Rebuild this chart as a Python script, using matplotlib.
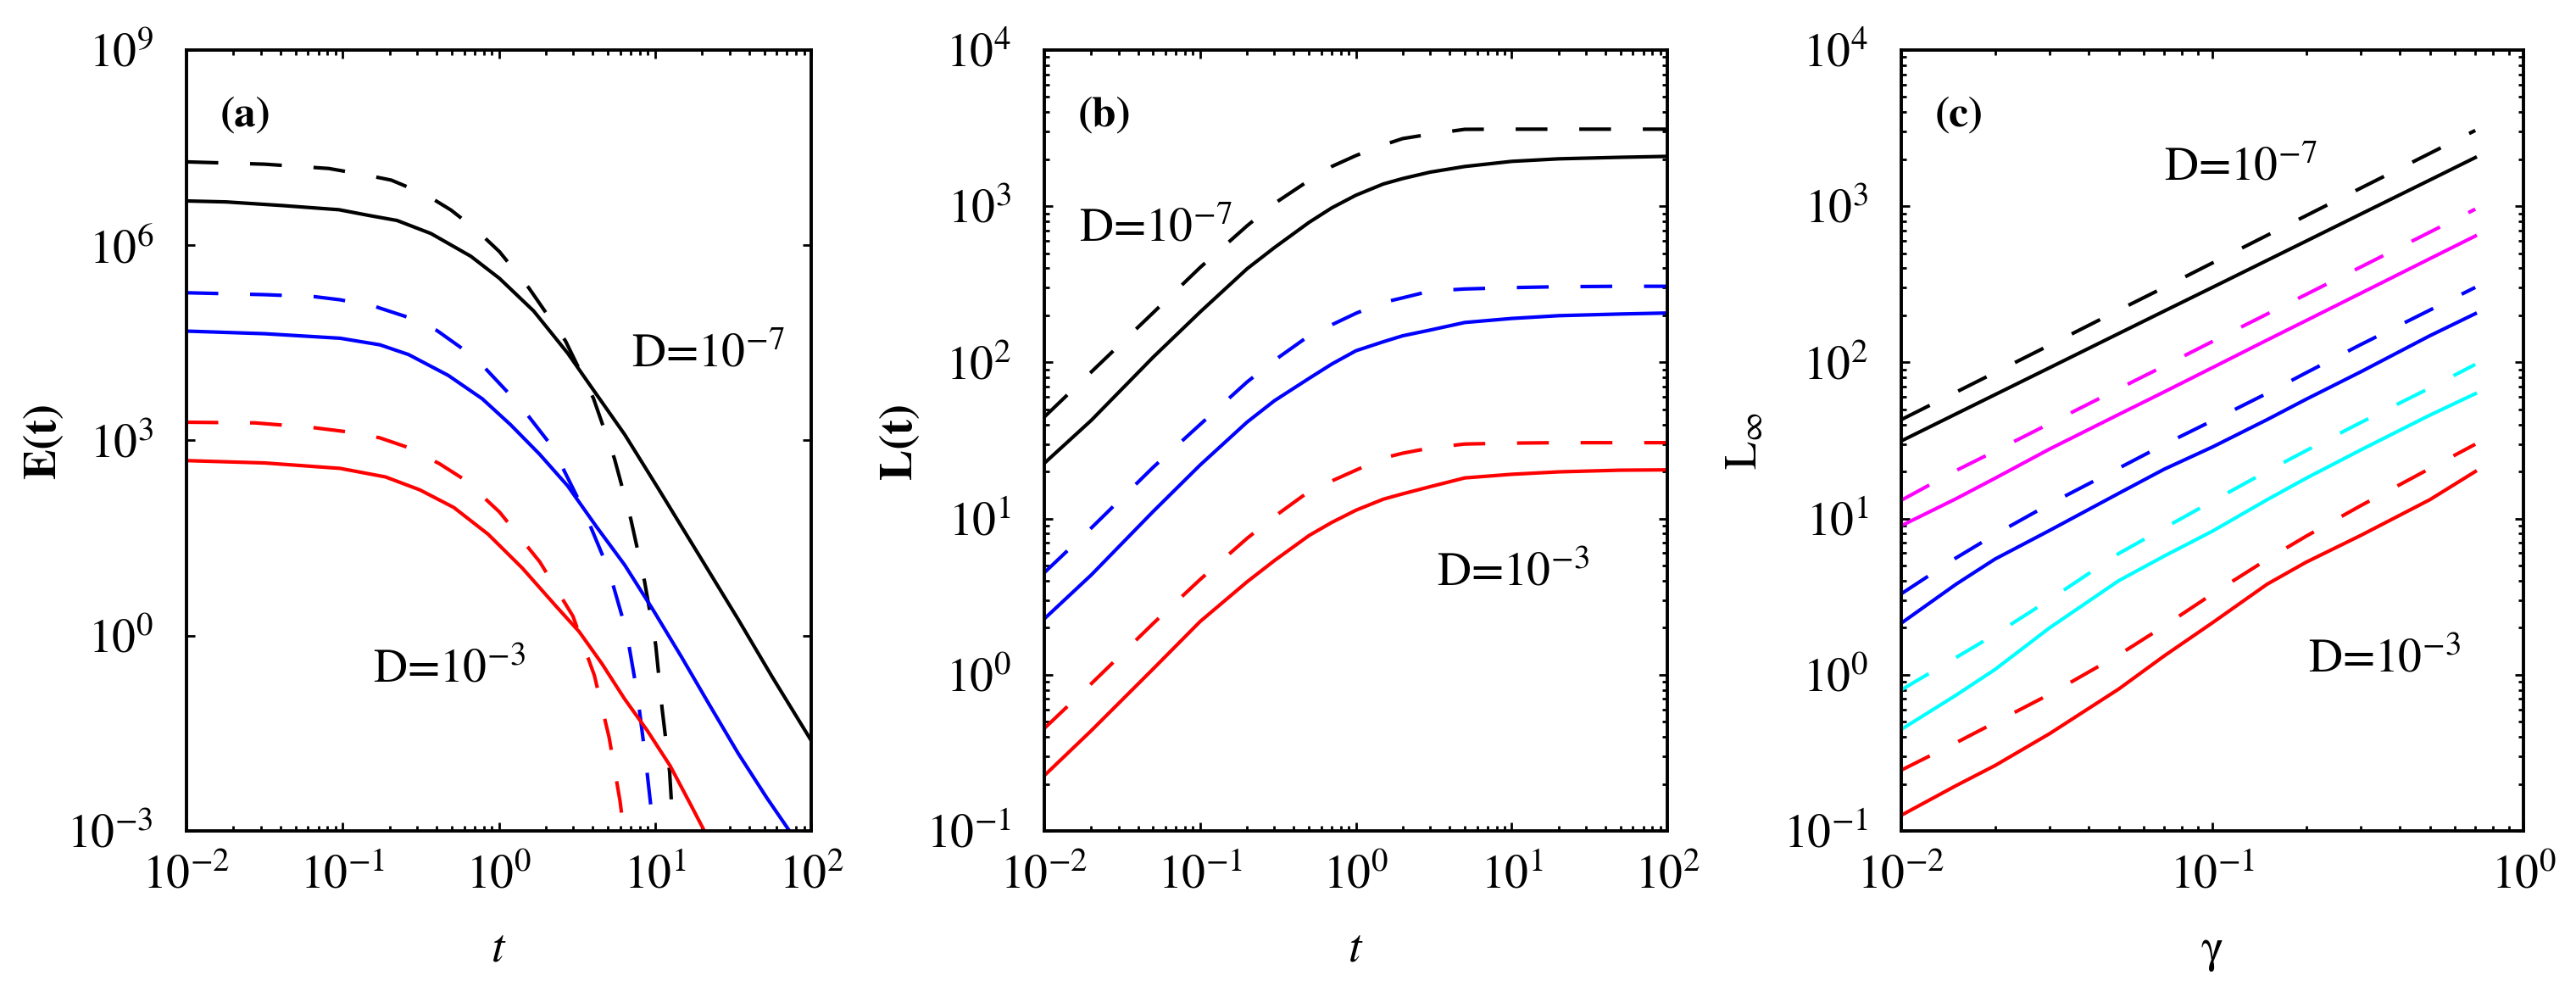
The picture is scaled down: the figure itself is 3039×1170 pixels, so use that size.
import numpy as np
import matplotlib
matplotlib.use("Agg")
import matplotlib.pyplot as plt
from matplotlib.ticker import NullLocator, LogLocator

plt.rcParams['font.family'] = 'STIXGeneral'
plt.rcParams['mathtext.fontset'] = 'stix'

# ---- panel (a): E(t) ----
t_a_black = [0.01, 0.0179, 0.0412, 0.0948, 0.147, 0.223, 0.368, 0.662, 1.01, 1.67, 2.76, 3.86, 6.40, 10.5, 19.1, 33.9, 56.2, 100]
E_a_black = [4.79e6, 4.63e6, 4.07e6, 3.51e6, 2.87e6, 2.40e6, 1.51e6, 6.76e5, 3.09e5, 9.77e4, 2.19e4, 6.92e3, 1.23e3, 182, 17.4, 1.82, 0.234, 0.0245]
t_a_black_d = [0.01, 0.0316, 0.0815, 0.141, 0.205, 0.339, 0.494, 0.721, 1.01, 1.56, 2.67, 4.03, 5.50, 7.0, 8.57, 10.1, 11.1, 12.4, 13.0, 13.2]
E_a_black_d = [1.91e7, 1.76e7, 1.51e7, 1.20e7, 1.0e7, 6.03e6, 3.47e6, 1.70e6, 7.94e5, 2.19e5, 3.39e4, 4.47e3, 525, 61.7, 6.84, 0.724, 0.0759, 8.13e-3, 1.26e-3, 1.0e-3]
t_a_blue = [0.01, 0.0316, 0.0964, 0.173, 0.264, 0.474, 0.783, 1.19, 1.82, 2.76, 4.20, 6.38, 9.70, 14.8, 22.4, 34.1, 51.9, 72.6]
E_a_blue = [4.79e4, 4.37e4, 3.72e4, 2.95e4, 2.09e4, 1.0e4, 4.37e3, 1.74e3, 617, 200, 47.9, 12.3, 2.51, 0.468, 0.0851, 0.0155, 3.24e-3, 1.0e-3]
t_a_blue_d = [0.01, 0.0316, 0.0661, 0.0964, 0.160, 0.264, 0.401, 0.585, 0.817, 1.14, 1.53, 2.06, 2.33, 3.48, 5.07, 6.58, 7.71, 8.67, 9.59, 9.77]
E_a_blue_d = [1.86e5, 1.74e5, 1.62e5, 1.45e5, 1.15e5, 7.76e4, 4.90e4, 2.57e4, 1.29e4, 5.50e3, 2.45e3, 977, 603, 87.1, 10.0, 1.135, 0.126, 0.0138, 1.58e-3, 1.0e-3]
t_a_red = [0.01, 0.0316, 0.0964, 0.188, 0.312, 0.515, 0.853, 1.41, 2.33, 3.27, 4.57, 6.38, 8.93, 12.5, 16.7, 20.7]
E_a_red = [490, 451, 372, 275, 174, 93.3, 36.3, 11.0, 2.82, 1.15, 0.372, 0.107, 0.0347, 0.01, 2.69e-3, 1.0e-3]
t_a_red_d = [0.01, 0.0274, 0.0634, 0.109, 0.173, 0.264, 0.418, 0.610, 1.01, 1.83, 2.98, 4.09, 5.09, 5.97, 6.31]
E_a_red_d = [1905, 1862, 1585, 1349, 1096, 776, 437, 245, 79.4, 13.6, 2.0, 0.245, 0.0269, 2.88e-3, 1.0e-3]

# ---- panel (b): L(t) ----
t_b = [0.01, 0.02, 0.05, 0.1, 0.2, 0.3, 0.5, 0.7, 1, 1.5, 2, 3, 5, 10, 20, 50, 100]
L_b_black = [22.6, 42.5, 108, 210, 397, 543, 787, 975, 1175, 1387, 1503, 1652, 1795, 1936, 2010, 2056, 2084]
L_b_black_d = [44.7, 86.7, 208, 405, 748, 1040, 1462, 1795, 2108, 2466, 2710, 2891, 3105, 3112, 3112, 3112, 3112]
L_b_blue = [2.28, 4.35, 11.1, 22.0, 41.4, 56.8, 78.9, 97.5, 118.6, 135.5, 148, 161, 180, 191, 199, 204, 207]
L_b_blue_d = [4.50, 8.69, 21.3, 40.0, 74.8, 103, 148, 174, 206, 242, 259, 286, 295, 301, 305, 307, 307]
L_b_red = [0.226, 0.438, 1.09, 2.19, 3.93, 5.38, 7.78, 9.44, 11.3, 13.3, 14.4, 16.0, 18.2, 19.2, 19.9, 20.4, 20.5]
L_b_red_d = [0.453, 0.875, 2.13, 4.07, 7.46, 10.3, 14.9, 17.4, 20.4, 24.4, 26.2, 28.3, 30.0, 30.4, 30.6, 30.6, 30.6]

# ---- panel (c): L_inf(gamma) ----
gam = [0.01, 0.015, 0.02, 0.03, 0.05, 0.07, 0.1, 0.15, 0.2, 0.3, 0.5, 0.7]
Li_black = [31.4, 46.8, 62.1, 92.5, 153, 213, 302, 450, 597, 890, 1470, 2048]
Li_black_d = [43, 64.5, 86, 129, 216, 302, 433, 651, 869, 1306, 2178, 3055]
Li_mag = [9.0, 13.4, 18.1, 27.9, 46.4, 64.7, 92.5, 139, 185, 277, 461, 644]
Li_mag_d = [13.1, 20.3, 27, 40.6, 67.8, 94.8, 136, 204, 272, 408, 682, 957]
Li_blue = [2.14, 3.8, 5.5, 8.4, 14.5, 20.7, 28.7, 43, 58, 87, 148, 205]
Li_blue_d = [3.3, 5.6, 7.9, 12.4, 21, 29.8, 42.3, 63.4, 85.7, 130, 216, 302]
Li_cyan = [0.447, 0.74, 1.08, 2.0, 4.0, 5.75, 8.3, 13.2, 18.1, 27.5, 45.9, 63]
Li_cyan_d = [0.80, 1.29, 1.81, 3.03, 5.97, 8.7, 12.9, 20.1, 27.2, 41.2, 68.5, 97]
Li_red = [0.126, 0.195, 0.262, 0.42, 0.81, 1.32, 2.15, 3.8, 5.25, 7.8, 13.2, 20]
Li_red_d = [0.245, 0.367, 0.494, 0.75, 1.34, 2.05, 3.29, 5.48, 7.7, 12.1, 20.9, 29.9]

LW = 3.0
DASH = (0, (9, 9))
FS_TICK = 40
FS_LAB = 39

fig = plt.figure(figsize=(30.39, 11.7), dpi=100)
ax_a = fig.add_axes([0.0724, 0.1624, 0.2425, 0.7872])
ax_b = fig.add_axes([0.4054, 0.1624, 0.2419, 0.7872])
ax_c = fig.add_axes([0.7381, 0.1624, 0.2415, 0.7872])

# panel (a)
ax_a.loglog(t_a_black_d, E_a_black_d, color='k', lw=LW, ls=DASH)
ax_a.loglog(t_a_black, E_a_black, color='k', lw=LW)
ax_a.loglog(t_a_blue_d, E_a_blue_d, color='#0000ff', lw=LW, ls=DASH)
ax_a.loglog(t_a_blue, E_a_blue, color='#0000ff', lw=LW)
ax_a.loglog(t_a_red_d, E_a_red_d, color='#ff0000', lw=LW, ls=DASH)
ax_a.loglog(t_a_red, E_a_red, color='#ff0000', lw=LW)
ax_a.set_xlim(1e-2, 1e2)
ax_a.set_ylim(1e-3, 1e9)
ax_a.set_yticks([1e-3, 1e0, 1e3, 1e6, 1e9])
ax_a.yaxis.set_minor_locator(NullLocator())

# panel (b)
for vals, col, ls in [(L_b_black_d, 'k', DASH), (L_b_black, 'k', '-'),
                      (L_b_blue_d, '#0000ff', DASH), (L_b_blue, '#0000ff', '-'),
                      (L_b_red_d, '#ff0000', DASH), (L_b_red, '#ff0000', '-')]:
    ax_b.loglog(t_b, vals, color=col, lw=LW, ls=ls)
ax_b.set_xlim(1e-2, 1e2)
ax_b.set_ylim(1e-1, 1e4)

# panel (c)
for vals, col, ls in [(Li_black_d, 'k', DASH), (Li_black, 'k', '-'),
                      (Li_mag_d, '#ff00ff', DASH), (Li_mag, '#ff00ff', '-'),
                      (Li_blue_d, '#0000ff', DASH), (Li_blue, '#0000ff', '-'),
                      (Li_cyan_d, '#00ffff', DASH), (Li_cyan, '#00ffff', '-'),
                      (Li_red_d, '#ff0000', DASH), (Li_red, '#ff0000', '-')]:
    ax_c.loglog(gam, vals, color=col, lw=LW, ls=ls)
ax_c.set_xlim(1e-2, 1e0)
ax_c.set_ylim(1e-1, 1e4)

for ax in (ax_a, ax_b, ax_c):
    for sp in ax.spines.values():
        sp.set_linewidth(2.8)
    ax.tick_params(which='both', direction='in', top=True, right=True, width=2.0)
    ax.tick_params(which='major', length=7.5)
    ax.tick_params(which='minor', length=4)
    ax.tick_params(axis='y', labelsize=FS_TICK, pad=28)
    ax.tick_params(axis='x', labelsize=FS_TICK, pad=20)
    ax.xaxis.set_minor_locator(LogLocator(base=10, subs=np.arange(2, 10), numticks=20))

for ax in (ax_b, ax_c):
    ax.yaxis.set_minor_locator(LogLocator(base=10, subs=np.arange(2, 10), numticks=20))

# labels
ax_a.set_ylabel('E(t)', fontsize=FS_LAB, fontweight='bold')
ax_b.set_ylabel('L(t)', fontsize=FS_LAB, fontweight='bold')
ax_c.set_ylabel(r'L$_\infty$', fontsize=FS_LAB)
ax_a.set_xlabel(r'$t$', fontsize=40)
ax_b.set_xlabel(r'$t$', fontsize=40)
ax_c.set_xlabel('γ', fontsize=40)
for ax, xl in [(ax_a, -0.195), (ax_b, -0.199), (ax_c, -0.215)]:
    ax.yaxis.set_label_coords(xl, 0.5)
    ax.xaxis.set_label_coords(0.5, -0.125)

# panel letters and annotations
for ax, lab in [(ax_a, '(a)'), (ax_b, '(b)'), (ax_c, '(c)')]:
    ax.text(0.054, 0.916, lab, transform=ax.transAxes, fontsize=37,
            fontweight='bold', ha='left', va='center')

notes = [(ax_a, 0.712, 0.594, '-7'), (ax_a, 0.2985, 0.19, '-3'),
         (ax_b, 0.056, 0.755, '-7'), (ax_b, 0.63, 0.314, '-3'),
         (ax_c, 0.422, 0.833, '-7'), (ax_c, 0.654, 0.204, '-3')]
for ax, x, y, ex in notes:
    ax.text(x, y, r'D=$\mathregular{10^{%s}}$' % ex, transform=ax.transAxes,
            fontsize=FS_TICK, ha='left', va='baseline')

fig.savefig('out.png', dpi=100)
